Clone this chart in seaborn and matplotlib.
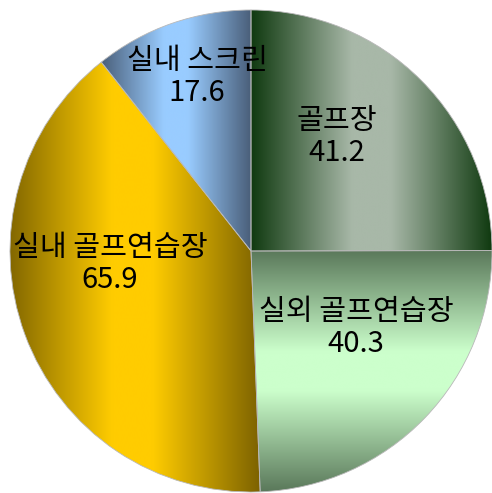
import numpy as np
import matplotlib
matplotlib.use("Agg")
import matplotlib.pyplot as plt
from matplotlib.colors import LinearSegmentedColormap
import seaborn as sns

# data (clockwise from 12 o'clock)
labels = ['골프장', '실외 골프연습장', '실내 골프연습장', '실내 스크린']
values = [41.2, 40.3, 65.9, 17.6]

# gradient fills: (edge colour, middle colour, direction)
gradients = [
    ('#103a10', '#a8b8a8', 'h'),
    ('#5a785a', '#ccffcc', 'v'),
    ('#7d6300', '#ffcc00', 'h'),
    ('#4a5f7a', '#99ccff', 'h'),
]
# label nudges from the radial position
label_nudge = [(-0.067, 0.048), (0.004, 0.096), (-0.022, 0.154), (-0.027, 0.155)]

sns.set_theme(style='white')
plt.rcParams['font.family'] = ['Noto Sans CJK KR', 'DejaVu Sans']

fig = plt.figure(figsize=(4.92, 4.93), dpi=100)
ax = fig.add_axes([0, 0, 1, 1])

wedges, _ = ax.pie(values, startangle=90, counterclock=False, radius=1,
                   wedgeprops=dict(edgecolor='#b8b8b8', linewidth=0.6))

for w, (edge, mid, d), val, lab, (nx, ny) in zip(wedges, gradients, values, labels, label_nudge):
    verts = w.get_path().vertices
    x0, x1 = verts[:, 0].min(), verts[:, 0].max()
    y0, y1 = verts[:, 1].min(), verts[:, 1].max()
    cmap = LinearSegmentedColormap.from_list(
        'g', [(0, edge), (0.42, mid), (0.58, mid), (1, edge)])
    ramp = np.linspace(0, 1, 256)
    arr = ramp[None, :] if d == 'h' else ramp[:, None]
    im = ax.imshow(arr, extent=[x0, x1, y0, y1], cmap=cmap, aspect='auto',
                   origin='lower', interpolation='bicubic', zorder=1)
    im.set_clip_path(w)
    w.set_facecolor('none')
    w.set_zorder(2)

    ang = np.deg2rad((w.theta1 + w.theta2) / 2)
    tx = 0.6 * np.cos(ang) + nx
    ty = 0.6 * np.sin(ang) + ny
    ax.text(tx, ty, f'{lab}\n{val}', ha='center', va='center', fontsize=21,
            linespacing=1.1, color='black', zorder=3)

ax.set_xlim(-251 / 241, 241 / 241)
ax.set_ylim(-242 / 241, 251 / 241)
ax.set_aspect('auto')
ax.axis('off')

fig.savefig('out.png', dpi=100)
